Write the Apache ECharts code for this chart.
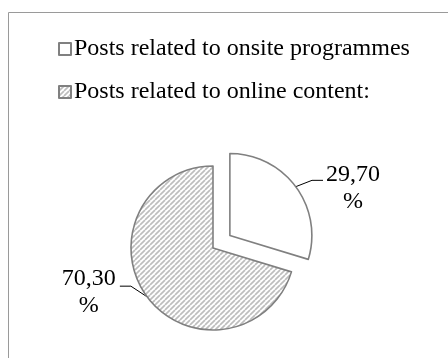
<!DOCTYPE html>
<html>
<head>
<meta charset="utf-8">
<style>
html,body{margin:0;padding:0;background:#fff;}
#main{width:448px;height:358px;}
</style>
<script src="https://cdn.jsdelivr.net/npm/echarts@6/dist/echarts.min.js"></script>
</head>
<body>
<div id="main"></div>
<script>
var categories = ['Posts related to onsite programmes', 'Posts related to online content:'];
var values = [29.70, 70.30];
var labelTexts = ['29,70', '70,30'];

function makeHatch() {
  var c = document.createElement('canvas');
  var s = 5;
  c.width = s; c.height = s;
  var ctx = c.getContext('2d');
  ctx.fillStyle = '#ffffff';
  ctx.fillRect(0, 0, s, s);
  ctx.strokeStyle = '#bdbdbd';
  ctx.lineWidth = 1.7;
  for (var k = -1; k <= 1; k++) {
    ctx.beginPath();
    ctx.moveTo(k * s, s);
    ctx.lineTo(k * s + s, 0);
    ctx.stroke();
  }
  return c;
}
var hatch = makeHatch();

var chart = echarts.init(document.getElementById('main'), null, {renderer: 'canvas'});
var fills = ['#ffffff', {image: hatch, repeat: 'repeat'}];
var labelShift = [[5, 10], [-6, -13]];
var lineShift = [[5, 2], [-5, -19]];

var option = {
  animation: false,
  backgroundColor: '#ffffff',
  graphic: [{
    type: 'rect',
    shape: {x: 8.5, y: 12.5, width: 460, height: 360},
    style: {fill: 'none', stroke: '#9a9a9a', lineWidth: 1},
    silent: true
  }],
  legend: {
    orient: 'vertical',
    left: 58,
    top: 37,
    padding: 0,
    itemWidth: 12,
    itemHeight: 12,
    itemGap: 19,
    icon: 'rect',
    textStyle: {fontFamily: 'Liberation Serif', fontSize: 24, color: '#000', padding: [0, 0, 0, -2]},
    data: categories
  },
  series: [{
    type: 'pie',
    center: [213, 248],
    radius: 82,
    startAngle: 90,
    clockwise: true,
    selectedMode: 'single',
    selectedOffset: 21,
    avoidLabelOverlap: false,
    label: {
      show: true,
      position: 'outside',
      distanceToLabelLine: 3,
      fontFamily: 'Liberation Serif',
      fontSize: 24,
      color: '#000',
      lineHeight: 27,
      formatter: function (p) { return '{a|' + labelTexts[p.dataIndex] + '}\n{b|%}'; },
      rich: {
        a: {fontFamily: 'Liberation Serif', fontSize: 24, color: '#000', lineHeight: 27},
        b: {fontFamily: 'Liberation Serif', fontSize: 24, color: '#000', lineHeight: 27, align: 'center'}
      }
    },
    labelLine: {
      show: true,
      length: 14,
      length2: 11,
      lineStyle: {color: '#000', width: 1}
    },
    labelLayout: function (p) {
      var s = labelShift[p.dataIndex];
      var ls = lineShift[p.dataIndex];
      var out = {dx: s[0], dy: s[1]};
      var pts = p.labelLinePoints;
      if (pts && pts.length === 3) {
        out.labelLinePoints = [
          [pts[0][0], pts[0][1]],
          [pts[1][0] + ls[0], pts[1][1] + ls[1]],
          [pts[2][0] + ls[0], pts[2][1] + ls[1]]
        ];
      }
      return out;
    },
    emphasis: {disabled: true},
    data: categories.map(function (c, i) {
      return {
        name: c,
        value: values[i],
        selected: i === 0,
        itemStyle: {color: fills[i], borderColor: '#808080', borderWidth: 1.6}
      };
    })
  }]
};
chart.setOption(option);
</script>
</body>
</html>
